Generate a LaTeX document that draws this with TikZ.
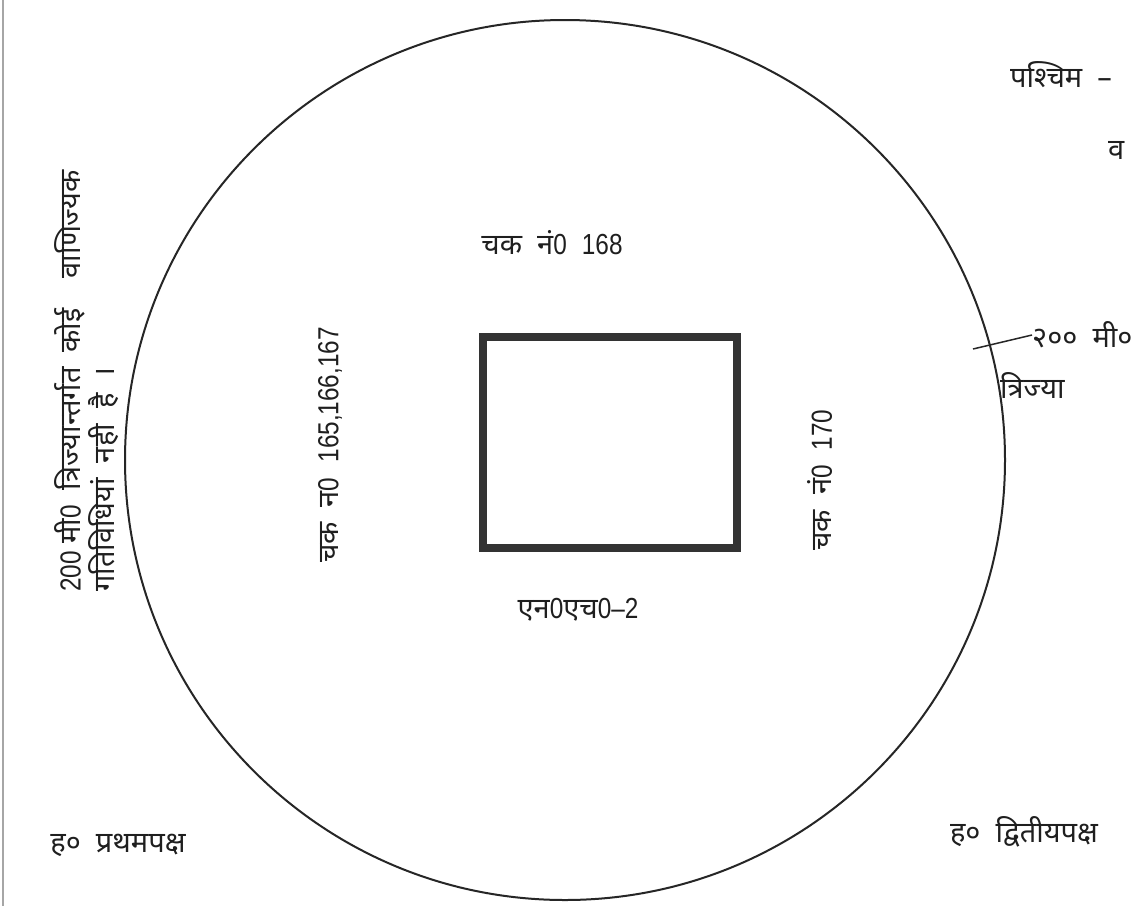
\documentclass[tikz,border=0pt]{standalone}
\usepackage{fontspec}
\setmainfont[Script=Devanagari]{Noto Sans}
\newfontfamily\narrowdigits[FakeStretch=0.84, Ligatures=TeX]{Liberation Sans}
\newcommand{\nd}[1]{{\narrowdigits #1}}
\usetikzlibrary{positioning}

\tikzset{
  label text/.style={text=black!88, font=\fontsize{29}{34}\selectfont, inner sep=0pt},
  side text/.style={label text, rotate=90},
}

\begin{document}
\begin{tikzpicture}[x=1pt, y=-1pt]
  % Frame
  \useasboundingbox (0,0) rectangle (1145,906);
  \fill[white] (0,0) rectangle (1145,906);
  \draw[gray!70, line width=1.5pt] (3,0) -- (3,906);
  % 200 m radius circle and NH-2 plot
  \draw[black!85, line width=2pt] (565,460) circle (440);
  \draw[black!80, line width=8pt] (483,337) rectangle (737,548);
  % Labels inside the circle
  \node[label text] (chaktop) at (552,243) {चक\ \ नं\nd{0}\ \ \nd{168}};
  \node[label text] (highway) at (578,610) {एन\nd{0}एच\nd{0–2}};
  \node[side text] (chakleft) at (330,445) {चक\ \ न\nd{0}\ \ \nd{165,166,167}};
  \node[side text] (chakright) at (820,480) {चक\ \ नं\nd{0}\ \ \nd{170}};
  % Note on the left
  \node[side text, anchor=west] (noteone) at (70,592) {\nd{200} मी\nd{0}\ \ त्रिज्यान्तर्गत\ \ कोई\ \ \ \ वाणिज्यक};
  \node[side text, anchor=west] (notetwo) at (104,592) {गतिविधियां\ \ नही\ \ है\ \ ।};
  % Parties
  \node[label text] (firstparty) at (118,845) {ह०\ \ प्रथमपक्ष};
  \node[label text] (secondparty) at (1024,832) {ह०\ \ द्वितीयपक्ष};
  % Top right, cut by the page edge
  \node[label text, anchor=west] (west) at (1010,75) {पश्चिम\ \ –};
  \node[label text, anchor=west] (westtwo) at (1108,150) {व};
  % Radius mark
  \node[label text, anchor=west] (rlabel) at (1032,335) {२००\ \ मी०};
  \node[label text, anchor=west] (rword) at (1000,385) {त्रिज्या};
  \coordinate (rtick) at (973,349);
  \draw[black!85, line width=1.5pt] (rtick) -- (rlabel.west);
\end{tikzpicture}
\end{document}
